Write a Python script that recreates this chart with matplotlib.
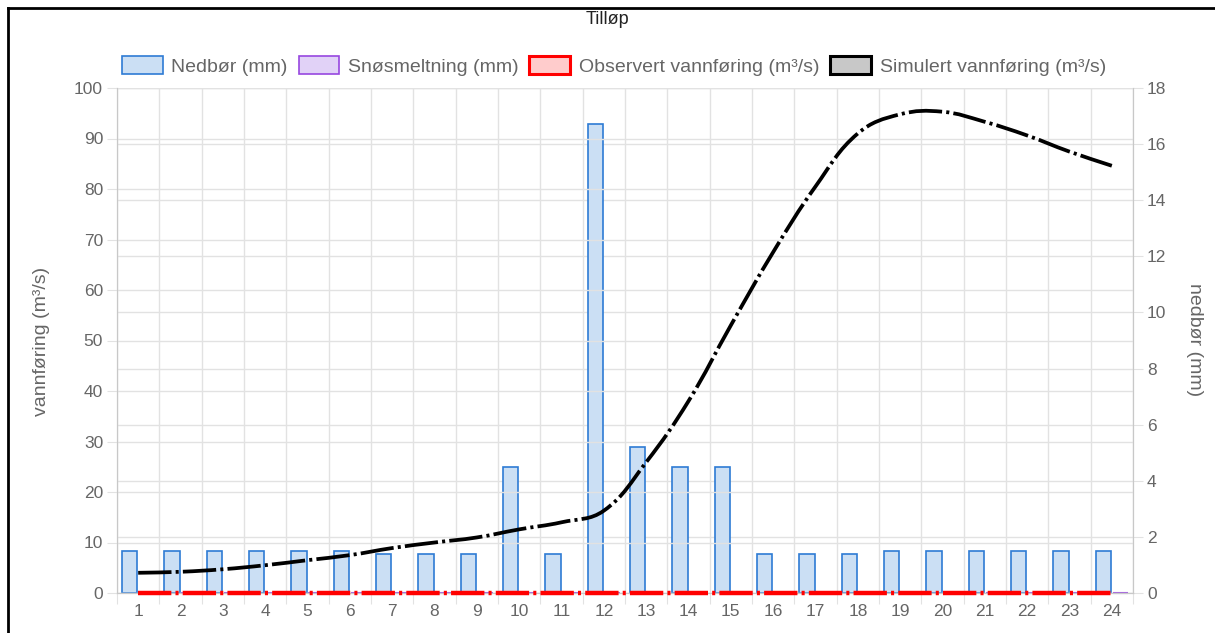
import matplotlib
matplotlib.use('Agg')
import matplotlib.pyplot as plt
import numpy as np
from matplotlib.patches import Patch, PathPatch
from matplotlib.path import Path
from matplotlib.lines import Line2D

plt.rcParams['font.family'] = ['Liberation Sans', 'DejaVu Sans']
plt.rcParams['lines.scale_dashes'] = False

# data
days = [str(i) for i in range(1, 25)]
nedbor = [1.5, 1.5, 1.5, 1.5, 1.5, 1.5, 1.4, 1.4, 1.4, 4.5, 1.4, 16.7,
          5.2, 4.5, 4.5, 1.4, 1.4, 1.4, 1.5, 1.5, 1.5, 1.5, 1.5, 1.5]
snosmelting = [0] * 24
observert = [0] * 24
simulert = [4.0, 4.2, 4.7, 5.5, 6.5, 7.5, 8.9, 10.0, 11.0, 12.6, 14.0, 16.3,
            25.9, 38.0, 53.0, 67.5, 80.5, 91.0, 94.8, 95.3, 93.3, 90.6, 87.4, 84.6]

W, H = 1215, 633
fig = plt.figure(figsize=(W / 100, H / 100), dpi=100)
ax = fig.add_axes([117 / W, 1 - 593 / H, (1133 - 117) / W, (593 - 88) / H])
ax2 = ax.twinx()

tick_col = '#666666'
grid_col = '#e2e2e2'
dash = (0, (24, 3, 2.2, 3))

x = np.arange(len(days))

# bars on the right axis (nedbør, mm)
ax2.bar(x - 0.2, nedbor, width=0.36, color='#cbdff4', edgecolor='#2e7bd4', linewidth=1.2, zorder=2)
ax2.bar(x + 0.2, snosmelting, width=0.36, color='#e1d2f7', edgecolor='#9747e0', linewidth=1.5,
        zorder=2, clip_on=False)
ax2.set_ylim(0, 18)
ax2.set_yticks(range(0, 19, 2))

# lines on the left axis (vannføring, m3/s)
ax.set_xlim(-0.5, len(days) - 0.5)
ax.set_ylim(0, 100)
ax.set_yticks(range(0, 101, 10))
ax.set_zorder(ax2.get_zorder() + 1)
ax.patch.set_visible(False)

ax.plot(x, observert, color='#ff0000', lw=3.2, linestyle=dash, zorder=3, clip_on=False)


def smooth_path(axis, xs, ys, t=0.4):
    # bezier through the points, like chart.js tension
    pts = axis.transData.transform(np.column_stack([xs, ys]))
    n = len(pts)
    verts = [pts[0]]
    codes = [Path.MOVETO]
    cps = []
    for i in range(n):
        prev = pts[max(i - 1, 0)]
        cur = pts[i]
        nxt = pts[min(i + 1, n - 1)]
        d01 = np.hypot(*(cur - prev))
        d12 = np.hypot(*(nxt - cur))
        tot = d01 + d12
        s01 = d01 / tot if tot else 0
        s12 = d12 / tot if tot else 0
        cps.append((cur - t * s01 * (nxt - prev), cur + t * s12 * (nxt - prev)))
    for i in range(1, n):
        verts += [cps[i - 1][1], cps[i][0], pts[i]]
        codes += [Path.CURVE4] * 3
    verts = axis.transData.inverted().transform(np.array(verts))
    return Path(verts, codes)


sim = PathPatch(smooth_path(ax, x, simulert), facecolor='none', edgecolor='black',
                lw=2.7, linestyle=dash, zorder=4, capstyle='butt')
ax.add_patch(sim)

# grid and axes styling
for a in (ax, ax2):
    a.grid(axis='y', color=grid_col, lw=1)
    a.set_axisbelow(True)
    for s in a.spines.values():
        s.set_color('#c8c8c8')
    a.spines['top'].set_visible(False)
    a.tick_params(axis='y', colors=grid_col, labelcolor=tick_col, labelsize=12.5, length=7, pad=3)

ax.set_xticks(np.arange(-0.5, len(days), 1))
ax.set_xticklabels([])
ax.set_xticks(x, minor=True)
ax.set_xticklabels(days, minor=True)
ax.tick_params(axis='x', which='major', colors=grid_col, length=8)
ax.tick_params(axis='x', which='minor', length=0, labelcolor=tick_col, labelsize=12.5, pad=8)
ax.grid(axis='x', which='major', color=grid_col, lw=1)

fig.text(42 / W, 1 - 341 / H, 'vannføring (m³/s)', rotation=90, ha='center', va='center',
         fontsize=14, color=tick_col)
fig.text(1195 / W, 1 - 340 / H, 'nedbør (mm)', rotation=270, ha='center', va='center',
         fontsize=14, color=tick_col)
fig.text(0.5, 1 - 20 / H, 'Tilløp', ha='center', va='center', fontsize=13, color='#222222')

handles = [
    Patch(facecolor='#cbdff4', edgecolor='#2e7bd4', lw=1.2),
    Patch(facecolor='#e1d2f7', edgecolor='#9747e0', lw=1.2),
    Patch(facecolor='#ffcccc', edgecolor='#ff0000', lw=2.2),
    Patch(facecolor='#c8c8c8', edgecolor='#000000', lw=2.2),
]
labels = ['Nedbør (mm)', 'Snøsmeltning (mm)', 'Observert vannføring (m³/s)', 'Simulert vannføring (m³/s)']
leg = fig.legend(handles, labels, loc='center', bbox_to_anchor=(614 / W, 1 - 66 / H), ncol=4,
                 frameon=False, fontsize=14, handlelength=2.1, handleheight=1.05,
                 handletextpad=0.45, columnspacing=0.55, labelcolor=tick_col)

# screenshot frame
fig.add_artist(Line2D([8 / W, 8 / W], [0, 1 - 8 / H], transform=fig.transFigure, color='black', lw=2))
fig.add_artist(Line2D([8 / W, 1], [1 - 8 / H, 1 - 8 / H], transform=fig.transFigure, color='black', lw=2))

fig.savefig('out.png', dpi=100)
